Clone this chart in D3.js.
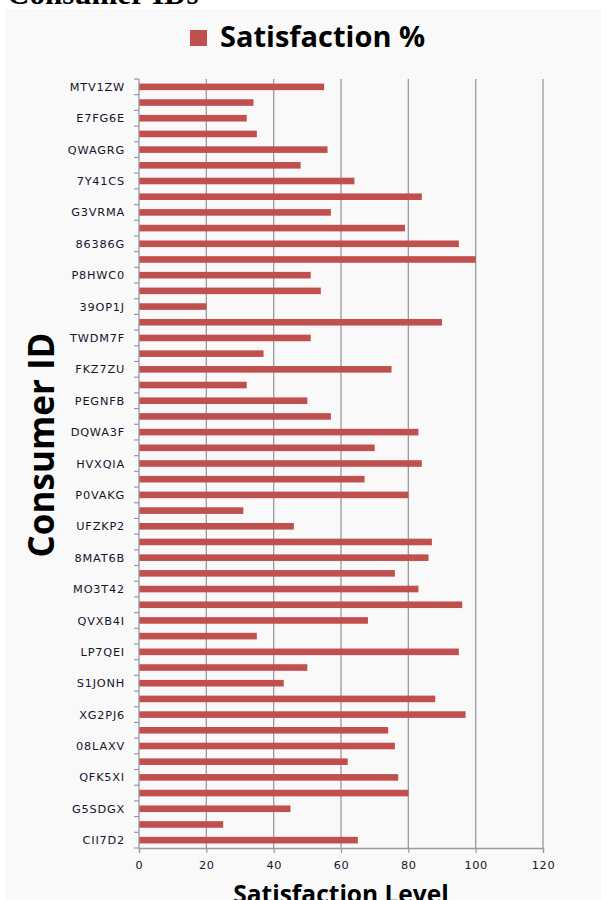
<!DOCTYPE html>
<html><head><meta charset="utf-8">
<script src="https://cdn.jsdelivr.net/npm/d3@7"></script>
<style>html,body{margin:0;padding:0;background:#fff;}svg{display:block;}</style>
</head><body>
<script>
const categories = ["MTV1ZW","c02","E7FG6E","c04","QWAGRG","c06","7Y41CS","c08","G3VRMA","c10","86386G","c12","P8HWC0","c14","39OP1J","c16","TWDM7F","c18","FKZ7ZU","c20","PEGNFB","c22","DQWA3F","c24","HVXQIA","c26","P0VAKG","c28","UFZKP2","c30","8MAT6B","c32","MO3T42","c34","QVXB4I","c36","LP7QEI","c38","S1JONH","c40","XG2PJ6","c42","08LAXV","c44","QFK5XI","c46","G5SDGX","c48","CII7D2"];
const shownLabels = ["MTV1ZW","E7FG6E","QWAGRG","7Y41CS","G3VRMA","86386G","P8HWC0","39OP1J","TWDM7F","FKZ7ZU","PEGNFB","DQWA3F","HVXQIA","P0VAKG","UFZKP2","8MAT6B","MO3T42","QVXB4I","LP7QEI","S1JONH","XG2PJ6","08LAXV","QFK5XI","G5SDGX","CII7D2"];
const satisfaction = [55,34,32,35,56,48,64,84,57,79,95,100,51,54,20,90,51,37,75,32,50,57,83,70,84,67,80,31,46,87,86,76,83,96,68,35,95,50,43,88,97,74,76,62,77,80,45,25,65];
const xTicks = [0,20,40,60,80,100,120];
const seriesName = "Satisfaction %";
const xTitle = "Satisfaction Level";
const yTitle = "Consumer ID";
const pageTitle = "Consumer IDs";

const W = 601, H = 900;
const svg = d3.select("body").append("svg").attr("width", W).attr("height", H);

// chart area background
svg.append("rect").attr("x", 5).attr("y", 9).attr("width", W - 5).attr("height", H - 9)
  .attr("fill", "#f9f9f9");

// cut-off page title
svg.append("text").attr("x", 7).attr("y", 4)
  .attr("font-family", "Liberation Serif").attr("font-weight", "bold").attr("font-size", 31)
  .attr("fill", "#000").text(pageTitle);

const x = d3.scaleLinear().domain([0, 120]).range([139, 543]);
const y = d3.scaleBand().domain(categories).range([79, 848]).paddingInner(0.58).paddingOuter(0.29);

// gridlines
svg.append("g").selectAll("line").data(xTicks.filter(d => d > 0)).join("line")
  .attr("x1", d => x(d)).attr("x2", d => x(d)).attr("y1", 79).attr("y2", 848)
  .attr("stroke", "#9a9a9a").attr("stroke-width", 1.3);

// bars
svg.append("g").selectAll("rect").data(satisfaction).join("rect")
  .attr("x", x(0)).attr("y", (d, i) => y(categories[i]))
  .attr("width", d => x(d) - x(0)).attr("height", y.bandwidth())
  .attr("fill", "#c0504d");

// y axis line and boundary ticks
const bounds = d3.range(categories.length + 1).map(i => 79 + i * (769 / categories.length));
svg.append("line").attr("x1", x(0)).attr("x2", x(0)).attr("y1", 79).attr("y2", 848)
  .attr("stroke", "#9a9a9a").attr("stroke-width", 1.3);
svg.append("g").selectAll("line").data(bounds).join("line")
  .attr("x1", x(0) - 5).attr("x2", x(0)).attr("y1", d => d).attr("y2", d => d)
  .attr("stroke", "#9a9a9a").attr("stroke-width", 1.2);

// y labels
svg.append("g").selectAll("text").data(categories.filter(c => shownLabels.includes(c))).join("text")
  .attr("x", 125).attr("y", d => y(d) + y.bandwidth() / 2)
  .attr("dy", "0.36em").attr("text-anchor", "end")
  .attr("font-family", "DejaVu Sans").attr("font-size", 11.3).attr("letter-spacing", 0.8)
  .attr("fill", "#14142a").text(d => d);

// x axis
const xAxis = svg.append("g").attr("transform", "translate(0,848)")
  .call(d3.axisBottom(x).tickValues(xTicks).tickSize(5).tickPadding(8));
xAxis.select(".domain").attr("stroke", "#9a9a9a").attr("stroke-width", 1.3);
xAxis.selectAll(".tick line").attr("stroke", "#9a9a9a").attr("stroke-width", 1.2);
xAxis.selectAll(".tick text").attr("font-family", "DejaVu Sans").attr("font-size", 11.3)
  .attr("letter-spacing", 0.6).attr("fill", "#14142a");

// legend
svg.append("rect").attr("x", 190).attr("y", 30).attr("width", 17).attr("height", 16).attr("fill", "#c0504d");
svg.append("text").attr("x", 220).attr("y", 47)
  .attr("font-family", "Open Sans").attr("font-weight", "bold").attr("font-size", 29)
  .attr("fill", "#000").text(seriesName);

// axis titles
svg.append("text").attr("transform", "translate(54,445) rotate(-90)")
  .attr("text-anchor", "middle")
  .attr("font-family", "Open Sans").attr("font-weight", "bold").attr("font-size", 35)
  .attr("fill", "#000").text(yTitle);
svg.append("text").attr("x", 341).attr("y", 903).attr("text-anchor", "middle")
  .attr("font-family", "Open Sans").attr("font-weight", "bold").attr("font-size", 24.5)
  .attr("fill", "#000").text(xTitle);
</script>
</body></html>
